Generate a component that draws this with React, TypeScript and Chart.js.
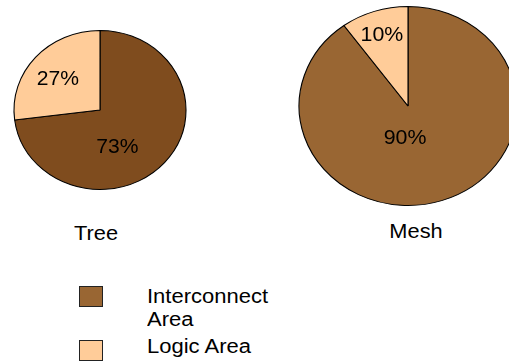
import React, { useEffect, useRef } from "react";
import { Chart, registerables } from "chart.js";

Chart.register(...registerables);

// ---- data ----
const categories = ["Interconnect Area", "Logic Area"];
const chartTitles = ["Tree", "Mesh"];
const treeValues = [73, 27];
const meshValues = [90, 10];

// ---- styles ----
const FONT = '"Liberation Sans", Arial, Helvetica, sans-serif';
const TREE_COLORS = ["#7f4c1e", "#ffcc99"];
const MESH_COLORS = ["#996633", "#ffcc99"];
const LEGEND_COLORS = ["#996633", "#ffcc99"];

type LabelPos = { angle: number; frac: number };

type PieSpec = {
  values: number[];
  colors: string[];
  left: number;
  top: number;
  width: number;
  height: number;
  sx: number;
  labels: LabelPos[];
};

const treeSpec: PieSpec = {
  values: treeValues,
  colors: TREE_COLORS,
  left: 5,
  top: 25,
  width: 190,
  height: 170,
  sx: 1.082,
  labels: [
    { angle: 157, frac: 0.52 },
    { angle: 307.7, frac: 0.62 },
  ],
};

const meshSpec: PieSpec = {
  values: meshValues,
  colors: MESH_COLORS,
  left: 293,
  top: 1,
  width: 230,
  height: 210,
  sx: 1.095,
  labels: [
    { angle: 184.7, frac: 0.33 },
    { angle: 341.4, frac: 0.75 },
  ],
};

function Pie({ spec }: { spec: PieSpec }) {
  const ref = useRef<HTMLCanvasElement | null>(null);
  useEffect(() => {
    if (!ref.current) return;
    const total = spec.values.reduce((a, b) => a + b, 0);
    const ellipsePlugin = {
      id: "ellipseLabels",
      beforeDatasetsDraw(chart: any) {
        const arc: any = chart.getDatasetMeta(0).data[0];
        const ctx = chart.ctx;
        ctx.save();
        ctx.translate(arc.x, arc.y);
        ctx.scale(spec.sx, 1);
        ctx.translate(-arc.x, -arc.y);
      },
      afterDatasetsDraw(chart: any) {
        const ctx = chart.ctx;
        const meta = chart.getDatasetMeta(0);
        meta.data.forEach((arc: any, i: number) => {
          const p = spec.labels[i];
          const r = arc.outerRadius * p.frac;
          const a = (p.angle * Math.PI) / 180;
          const x = arc.x + r * Math.sin(a);
          const y = arc.y - r * Math.cos(a);
          ctx.fillStyle = "#000";
          ctx.font = `19.5px ${FONT}`;
          ctx.textAlign = "center";
          ctx.textBaseline = "middle";
          ctx.fillText(Math.round((spec.values[i] / total) * 100) + "%", x, y);
        });
        ctx.restore();
      },
    };
    const chart = new Chart(ref.current, {
      type: "pie",
      data: {
        labels: categories,
        datasets: [
          {
            data: spec.values,
            backgroundColor: spec.colors,
            borderColor: "#000",
            borderWidth: 1,
          },
        ],
      },
      options: {
        responsive: false,
        animation: false,
        devicePixelRatio: 1,
        layout: { padding: 5 },
        plugins: {
          legend: { display: false },
          tooltip: { enabled: false },
          title: { display: false },
        },
      } as any,
      plugins: [ellipsePlugin as any],
    });
    return () => chart.destroy();
  }, [spec]);
  return (
    <canvas
      ref={ref}
      width={spec.width}
      height={spec.height}
      style={{
        position: "absolute",
        left: spec.left,
        top: spec.top,
        width: spec.width,
        height: spec.height,
      }}
    />
  );
}

const textBase: React.CSSProperties = {
  position: "absolute",
  fontFamily: FONT,
  fontSize: 20,
  color: "#000",
  whiteSpace: "nowrap",
};

export default function App() {
  return (
    <div
      style={{
        position: "absolute",
        left: 0,
        top: 0,
        width: 509,
        height: 363,
        overflow: "hidden",
        background: "#fff",
      }}
    >
      <Pie spec={treeSpec} />
      <Pie spec={meshSpec} />
      <div
        style={{
          ...textBase,
          left: 96,
          top: 223,
          lineHeight: "20px",
          transform: "translateX(-50%) scaleX(1.09)",
        }}
      >
        {chartTitles[0]}
      </div>
      <div
        style={{
          ...textBase,
          left: 416,
          top: 221,
          lineHeight: "20px",
          transform: "translateX(-50%) scaleX(1.09)",
        }}
      >
        {chartTitles[1]}
      </div>
      {/* legend */}
      <div
        style={{
          position: "absolute",
          left: 79,
          top: 286,
          width: 24,
          height: 21,
          boxSizing: "border-box",
          border: "1px solid #222",
          background: LEGEND_COLORS[0],
        }}
      />
      <div
        style={{
          position: "absolute",
          left: 79,
          top: 340,
          width: 24,
          height: 21,
          boxSizing: "border-box",
          border: "1px solid #222",
          background: LEGEND_COLORS[1],
        }}
      />
      <div
        style={{
          ...textBase,
          left: 147,
          top: 285,
          lineHeight: "23px",
          transformOrigin: "left top",
          transform: "scaleX(1.1)",
        }}
      >
        {categories[0].split(" ")[0]}
        <br />
        {categories[0].split(" ")[1]}
      </div>
      <div
        style={{
          ...textBase,
          left: 147,
          top: 335,
          lineHeight: "23px",
          transformOrigin: "left top",
          transform: "scaleX(1.1)",
        }}
      >
        {categories[1]}
      </div>
    </div>
  );
}
